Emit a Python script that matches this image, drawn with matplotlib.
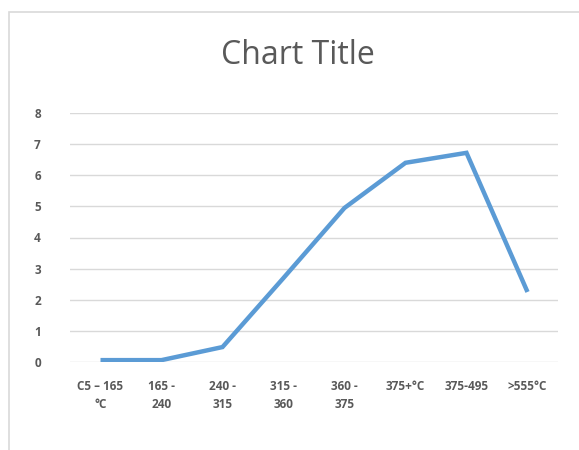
import matplotlib.pyplot as plt
from matplotlib.patches import Rectangle

# data
categories = ["C5 \u2013 165\n\u00b0C", "165 -\n240", "240 -\n315", "315 -\n360",
              "360 -\n375", "375+\u00b0C", "375-495", ">555\u00b0C"]
values = [0.06, 0.06, 0.48, 2.7, 4.95, 6.4, 6.72, 2.25]
yticks = [0, 1, 2, 3, 4, 5, 6, 7, 8]

plt.rcParams['font.family'] = ['Open Sans', 'DejaVu Sans']

fig = plt.figure(figsize=(5.79, 4.5), dpi=100)
ax = fig.add_axes([70/579, 1-362/450, 488/579, 249/450])

x = list(range(len(categories)))
ax.plot(x, values, color='#5B9BD5', lw=3.2, solid_joinstyle='miter', solid_capstyle='butt')

ax.set_xlim(-0.5, len(categories)-0.5)
ax.set_ylim(0, 8)
ax.set_yticks(yticks)
ax.set_yticklabels([str(v) for v in yticks])
ax.set_xticks(x)
ax.set_xticklabels(categories, linespacing=1.45)
ax.yaxis.grid(True, color='#D9D9D9', lw=1)
ax.set_axisbelow(True)
for s in ax.spines.values():
    s.set_visible(False)
ax.tick_params(length=0, labelsize=8.5, labelcolor='#595959')
ax.tick_params(axis='y', pad=21)
ax.tick_params(axis='x', pad=13)
for lab in ax.get_xticklabels() + ax.get_yticklabels():
    lab.set_fontweight('bold')

fig.text(298/579, 1-56/450, "Chart Title", ha='center', va='center',
         fontsize=23, color='#595959')

# outer chart border
fig.patches.append(Rectangle((9/579, -0.1), 1.0, 1-12/450+0.1, transform=fig.transFigure,
                             fill=False, ec='#D9D9D9', lw=1.2))

fig.savefig('out.png', dpi=100)
